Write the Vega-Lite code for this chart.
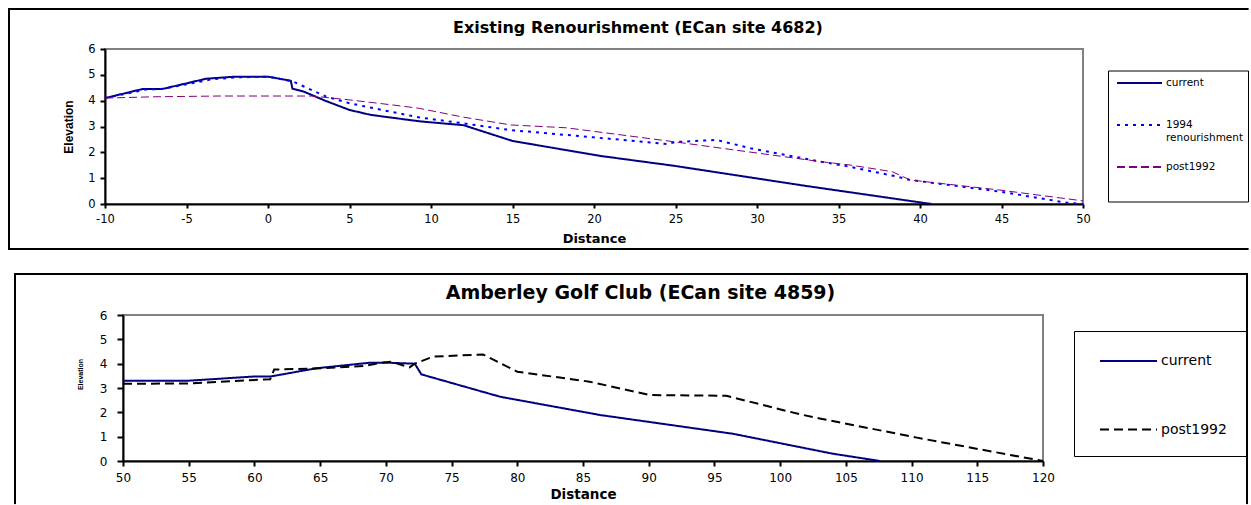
{
  "$schema": "https://vega.github.io/schema/vega-lite/v6.json",
  "padding": {"left": 5, "top": 6, "right": 0, "bottom": 0},
  "background": "white",
  "spacing": 19,
  "config": {
    "view": {"stroke": "#808080", "strokeWidth": 2},
    "axis": {"grid": false, "domainColor": "black", "domainWidth": 2, "tickColor": "black", "tickWidth": 2, "labelColor": "black", "titleColor": "black", "labelFlush": false, "labelOverlap": false, "minExtent": 0}
  },
  "resolve": {
    "scale": {"x": "independent", "y": "independent", "color": "independent", "strokeDash": "independent"},
    "axis": {"x": "independent", "y": "independent"},
    "legend": {"color": "independent", "strokeDash": "independent"}
  },
  "vconcat": [
    {
      "spacing": 0,
      "resolve": {"scale": {"color": "independent", "strokeDash": "independent"}, "legend": {"color": "independent", "strokeDash": "independent"}},
      "hconcat": [
        {"width": 1, "height": 1, "view": {"stroke": null}, "data": {"values": []}, "mark": "point", "encoding": {}},
        {
          "width": 978,
          "height": 155,
          "title": {"text": "Existing Renourishment (ECan site 4682)", "font": "DejaVu Sans", "fontSize": 16, "fontWeight": "bold", "color": "black", "baseline": "alphabetic", "offset": -41.6, "dx": 44},
          "layer": [
            {
              "data": {"values": [
                {"series": "current", "distance": -10, "elevation": 4.1},
                {"series": "current", "distance": -7.7, "elevation": 4.45},
                {"series": "current", "distance": -6.5, "elevation": 4.45},
                {"series": "current", "distance": -5, "elevation": 4.67},
                {"series": "current", "distance": -3.8, "elevation": 4.85},
                {"series": "current", "distance": -2, "elevation": 4.93},
                {"series": "current", "distance": 0, "elevation": 4.93},
                {"series": "current", "distance": 1.4, "elevation": 4.77},
                {"series": "current", "distance": 1.5, "elevation": 4.46},
                {"series": "current", "distance": 2.2, "elevation": 4.35},
                {"series": "current", "distance": 3.5, "elevation": 4.0},
                {"series": "current", "distance": 5, "elevation": 3.64},
                {"series": "current", "distance": 6.3, "elevation": 3.45},
                {"series": "current", "distance": 9.3, "elevation": 3.2},
                {"series": "current", "distance": 12, "elevation": 3.05},
                {"series": "current", "distance": 15, "elevation": 2.44},
                {"series": "current", "distance": 20.4, "elevation": 1.86},
                {"series": "current", "distance": 24.9, "elevation": 1.48},
                {"series": "current", "distance": 33, "elevation": 0.7},
                {"series": "current", "distance": 40.7, "elevation": 0},
                {"series": "1994 renourishment", "distance": -10, "elevation": 4.1},
                {"series": "1994 renourishment", "distance": -7.5, "elevation": 4.43},
                {"series": "1994 renourishment", "distance": -6.5, "elevation": 4.45},
                {"series": "1994 renourishment", "distance": -3.5, "elevation": 4.82},
                {"series": "1994 renourishment", "distance": -2, "elevation": 4.9},
                {"series": "1994 renourishment", "distance": 0, "elevation": 4.93},
                {"series": "1994 renourishment", "distance": 1.5, "elevation": 4.75},
                {"series": "1994 renourishment", "distance": 3.6, "elevation": 4.15},
                {"series": "1994 renourishment", "distance": 5, "elevation": 3.9},
                {"series": "1994 renourishment", "distance": 7, "elevation": 3.64},
                {"series": "1994 renourishment", "distance": 9.3, "elevation": 3.35},
                {"series": "1994 renourishment", "distance": 12, "elevation": 3.12},
                {"series": "1994 renourishment", "distance": 14.9, "elevation": 2.86},
                {"series": "1994 renourishment", "distance": 20, "elevation": 2.58},
                {"series": "1994 renourishment", "distance": 24.5, "elevation": 2.32},
                {"series": "1994 renourishment", "distance": 25, "elevation": 2.4},
                {"series": "1994 renourishment", "distance": 27.5, "elevation": 2.48},
                {"series": "1994 renourishment", "distance": 29.6, "elevation": 2.16},
                {"series": "1994 renourishment", "distance": 33.9, "elevation": 1.64},
                {"series": "1994 renourishment", "distance": 35.7, "elevation": 1.44},
                {"series": "1994 renourishment", "distance": 38.6, "elevation": 1.06},
                {"series": "1994 renourishment", "distance": 39.4, "elevation": 0.93},
                {"series": "1994 renourishment", "distance": 44.9, "elevation": 0.48},
                {"series": "1994 renourishment", "distance": 49, "elevation": 0.05},
                {"series": "1994 renourishment", "distance": 50, "elevation": 0},
                {"series": "post1992", "distance": -10, "elevation": 4.1},
                {"series": "post1992", "distance": -7, "elevation": 4.15},
                {"series": "post1992", "distance": -3, "elevation": 4.18},
                {"series": "post1992", "distance": 2.7, "elevation": 4.18},
                {"series": "post1992", "distance": 5, "elevation": 4.03},
                {"series": "post1992", "distance": 8.1, "elevation": 3.8},
                {"series": "post1992", "distance": 9.3, "elevation": 3.7},
                {"series": "post1992", "distance": 12, "elevation": 3.36},
                {"series": "post1992", "distance": 14.9, "elevation": 3.06},
                {"series": "post1992", "distance": 18.3, "elevation": 2.95},
                {"series": "post1992", "distance": 24.9, "elevation": 2.41},
                {"series": "post1992", "distance": 33.9, "elevation": 1.64},
                {"series": "post1992", "distance": 35.7, "elevation": 1.51},
                {"series": "post1992", "distance": 38.3, "elevation": 1.25},
                {"series": "post1992", "distance": 39.4, "elevation": 0.93},
                {"series": "post1992", "distance": 44.9, "elevation": 0.54},
                {"series": "post1992", "distance": 50, "elevation": 0.12}
              ]},
              "mark": {"type": "line"},
              "encoding": {
                "x": {"field": "distance", "type": "quantitative", "title": "Distance",
                  "scale": {"domain": [-10, 50], "nice": false, "zero": false},
                  "axis": {"values": [-10, -5, 0, 5, 10, 15, 20, 25, 30, 35, 40, 45, 50], "labelExpr": "toString(datum.value)", "tickSize": 4, "labelPadding": 5.5, "labelFont": "DejaVu Sans", "labelFontSize": 11.5, "titleFont": "DejaVu Sans", "titleFontSize": 13, "titleFontWeight": "bold", "titlePadding": 7.5}},
                "y": {"field": "elevation", "type": "quantitative", "title": "Elevation",
                  "scale": {"domain": [0, 6], "nice": false, "zero": false},
                  "axis": {"values": [0, 1, 2, 3, 4, 5, 6], "tickSize": 5, "labelPadding": 5, "labelFont": "DejaVu Sans", "labelFontSize": 11.5, "titleFont": "Liberation Sans", "titleFontSize": 12, "titleFontWeight": "bold", "titlePadding": 12}},
                "color": {"field": "series", "type": "nominal",
                  "scale": {"domain": ["current", "1994 renourishment", "post1992"], "range": ["#000080", "#0000FF", "#800080"]},
                  "legend": {"orient": "none", "legendX": 1003, "legendY": 21.5, "title": null, "strokeColor": "black", "padding": 4, "symbolType": "M-0.467,0L5.533,0", "symbolSize": 225, "symbolStrokeWidth": 2, "labelFont": "DejaVu Sans", "labelFontSize": 10.5, "labelColor": "black", "labelOffset": 37, "rowPadding": 3, "labelLimit": 200,
                    "labelExpr": "datum.label == '1994 renourishment' ? ['1994', 'renourishment', ''] : [datum.label, '', '']",
                    "encode": {"legend": {"strokeWidth": {"value": 2}}}}},
                "strokeDash": {"field": "series", "type": "nominal",
                  "scale": {"domain": ["current", "1994 renourishment", "post1992"], "range": [[1, 0], [3, 5], [8, 4]]}},
                "strokeWidth": {"condition": {"test": "datum.series === 'post1992'", "value": 1}, "value": 2}
              }
            },
            {
              "data": {"values": [{}]},
              "mark": {"type": "rule", "color": "black", "strokeWidth": 2, "strokeCap": "square"},
              "encoding": {
                "x": {"datum": -15.89, "title": "Distance", "axis": {"values": [-10, -5, 0, 5, 10, 15, 20, 25, 30, 35, 40, 45, 50], "labelExpr": "toString(datum.value)", "tickSize": 4, "labelPadding": 5.5, "labelFont": "DejaVu Sans", "labelFontSize": 11.5, "titleFont": "DejaVu Sans", "titleFontSize": 13, "titleFontWeight": "bold", "titlePadding": 7.5}},
                "y": {"datum": -1.742, "title": "Elevation", "axis": {"values": [0, 1, 2, 3, 4, 5, 6], "tickSize": 5, "labelPadding": 5, "labelFont": "DejaVu Sans", "labelFontSize": 11.5, "titleFont": "Liberation Sans", "titleFontSize": 12, "titleFontWeight": "bold", "titlePadding": 12}},
                "y2": {"datum": 7.548}}
            },
            {
              "data": {"values": [{}]},
              "mark": {"type": "rule", "color": "black", "strokeWidth": 2, "strokeCap": "square"},
              "encoding": {
                "x": {"datum": -15.89, "title": "Distance", "axis": {"values": [-10, -5, 0, 5, 10, 15, 20, 25, 30, 35, 40, 45, 50], "labelExpr": "toString(datum.value)", "tickSize": 4, "labelPadding": 5.5, "labelFont": "DejaVu Sans", "labelFontSize": 11.5, "titleFont": "DejaVu Sans", "titleFontSize": 13, "titleFontWeight": "bold", "titlePadding": 7.5}},
                "x2": {"datum": 60.1},
                "y": {"datum": 7.548, "title": "Elevation", "axis": {"values": [0, 1, 2, 3, 4, 5, 6], "tickSize": 5, "labelPadding": 5, "labelFont": "DejaVu Sans", "labelFontSize": 11.5, "titleFont": "Liberation Sans", "titleFontSize": 12, "titleFontWeight": "bold", "titlePadding": 12}}}
            },
            {
              "data": {"values": [{}]},
              "mark": {"type": "rule", "color": "black", "strokeWidth": 2, "strokeCap": "square"},
              "encoding": {
                "x": {"datum": -15.89, "title": "Distance", "axis": {"values": [-10, -5, 0, 5, 10, 15, 20, 25, 30, 35, 40, 45, 50], "labelExpr": "toString(datum.value)", "tickSize": 4, "labelPadding": 5.5, "labelFont": "DejaVu Sans", "labelFontSize": 11.5, "titleFont": "DejaVu Sans", "titleFontSize": 13, "titleFontWeight": "bold", "titlePadding": 7.5}},
                "x2": {"datum": 60.1},
                "y": {"datum": -1.742, "title": "Elevation", "axis": {"values": [0, 1, 2, 3, 4, 5, 6], "tickSize": 5, "labelPadding": 5, "labelFont": "DejaVu Sans", "labelFontSize": 11.5, "titleFont": "Liberation Sans", "titleFontSize": 12, "titleFontWeight": "bold", "titlePadding": 12}}}
            }
          ]
        }
      ]
    },
    {
      "spacing": 0,
      "resolve": {"scale": {"color": "independent", "strokeDash": "independent"}, "legend": {"color": "independent", "strokeDash": "independent"}},
      "hconcat": [
        {"width": 7, "height": 1, "view": {"stroke": null}, "data": {"values": []}, "mark": "point", "encoding": {}},
        {
          "width": 920,
          "height": 146,
          "title": {"text": "Amberley Golf Club (ECan site 4859)", "font": "DejaVu Sans", "fontSize": 19, "fontWeight": "bold", "color": "black", "baseline": "alphabetic", "offset": -45.5, "dx": 57.5},
          "layer": [
            {
              "data": {"values": [
                {"series": "current", "distance": 50, "elevation": 3.3},
                {"series": "current", "distance": 55, "elevation": 3.3},
                {"series": "current", "distance": 59.9, "elevation": 3.47},
                {"series": "current", "distance": 61.2, "elevation": 3.47},
                {"series": "current", "distance": 64.7, "elevation": 3.81},
                {"series": "current", "distance": 68.8, "elevation": 4.04},
                {"series": "current", "distance": 70.1, "elevation": 4.04},
                {"series": "current", "distance": 72.2, "elevation": 4.0},
                {"series": "current", "distance": 72.7, "elevation": 3.56},
                {"series": "current", "distance": 78.7, "elevation": 2.64},
                {"series": "current", "distance": 86.3, "elevation": 1.89},
                {"series": "current", "distance": 96.4, "elevation": 1.12},
                {"series": "current", "distance": 104, "elevation": 0.3},
                {"series": "current", "distance": 107.6, "elevation": 0},
                {"series": "post1992", "distance": 50, "elevation": 3.17},
                {"series": "post1992", "distance": 55, "elevation": 3.19},
                {"series": "post1992", "distance": 61.2, "elevation": 3.36},
                {"series": "post1992", "distance": 61.5, "elevation": 3.76},
                {"series": "post1992", "distance": 64.7, "elevation": 3.8},
                {"series": "post1992", "distance": 68.3, "elevation": 3.9},
                {"series": "post1992", "distance": 69.8, "elevation": 4.05},
                {"series": "post1992", "distance": 70.4, "elevation": 4.08},
                {"series": "post1992", "distance": 71.8, "elevation": 3.85},
                {"series": "post1992", "distance": 72.2, "elevation": 4.0},
                {"series": "post1992", "distance": 73.6, "elevation": 4.29},
                {"series": "post1992", "distance": 77.4, "elevation": 4.38},
                {"series": "post1992", "distance": 80, "elevation": 3.67},
                {"series": "post1992", "distance": 85.5, "elevation": 3.26},
                {"series": "post1992", "distance": 90.1, "elevation": 2.71},
                {"series": "post1992", "distance": 95.9, "elevation": 2.68},
                {"series": "post1992", "distance": 101.5, "elevation": 1.92},
                {"series": "post1992", "distance": 103, "elevation": 1.75},
                {"series": "post1992", "distance": 110.4, "elevation": 0.96},
                {"series": "post1992", "distance": 119.3, "elevation": 0.07},
                {"series": "post1992", "distance": 120, "elevation": 0}
              ]},
              "mark": {"type": "line", "strokeWidth": 2},
              "encoding": {
                "x": {"field": "distance", "type": "quantitative", "title": "Distance",
                  "scale": {"domain": [50, 120], "nice": false, "zero": false},
                  "axis": {"values": [50, 55, 60, 65, 70, 75, 80, 85, 90, 95, 100, 105, 110, 115, 120], "tickSize": 5, "labelPadding": 6.6, "labelFont": "DejaVu Sans", "labelFontSize": 12, "titleFont": "DejaVu Sans", "titleFontSize": 13.5, "titleFontWeight": "bold", "titlePadding": 4}},
                "y": {"field": "elevation", "type": "quantitative", "title": "Elevation",
                  "scale": {"domain": [0, 6], "nice": false, "zero": false},
                  "axis": {"values": [0, 1, 2, 3, 4, 5, 6], "tickSize": 6, "labelPadding": 10, "labelFont": "DejaVu Sans", "labelFontSize": 12, "titleFont": "Liberation Sans", "titleFontSize": 7, "titleFontWeight": "bold", "titlePadding": 16, "titleY": 59}},
                "color": {"field": "series", "type": "nominal",
                  "scale": {"domain": ["current", "post1992"], "range": ["#000080", "#000000"]},
                  "legend": {"orient": "none", "legendX": 951, "legendY": 16, "title": null, "strokeColor": "black", "padding": 19.5, "symbolType": "M-0.421,0L5.579,0", "symbolSize": 361, "symbolStrokeWidth": 2, "labelFont": "DejaVu Sans", "labelFontSize": 14, "labelColor": "black", "labelOffset": 46.5, "rowPadding": 50.5,
                    "encode": {"legend": {"strokeWidth": {"value": 2}}}}},
                "strokeDash": {"field": "series", "type": "nominal",
                  "scale": {"domain": ["current", "post1992"], "range": [[1, 0], [9, 5]]}}
              }
            },
            {
              "data": {"values": [{}]},
              "mark": {"type": "rule", "color": "black", "strokeWidth": 2, "strokeCap": "square"},
              "encoding": {
                "x": {"datum": 41.783, "title": "Distance", "axis": {"values": [50, 55, 60, 65, 70, 75, 80, 85, 90, 95, 100, 105, 110, 115, 120], "tickSize": 5, "labelPadding": 6.6, "labelFont": "DejaVu Sans", "labelFontSize": 12, "titleFont": "DejaVu Sans", "titleFontSize": 13.5, "titleFontWeight": "bold", "titlePadding": 4}},
                "y": {"datum": -1.73, "title": "Elevation", "axis": {"values": [0, 1, 2, 3, 4, 5, 6], "tickSize": 6, "labelPadding": 10, "labelFont": "DejaVu Sans", "labelFontSize": 12, "titleFont": "Liberation Sans", "titleFontSize": 7, "titleFontWeight": "bold", "titlePadding": 16, "titleY": 59}},
                "y2": {"datum": 7.685}}
            },
            {
              "data": {"values": [{}]},
              "mark": {"type": "rule", "color": "black", "strokeWidth": 2, "strokeCap": "square"},
              "encoding": {
                "x": {"datum": 41.783, "title": "Distance", "axis": {"values": [50, 55, 60, 65, 70, 75, 80, 85, 90, 95, 100, 105, 110, 115, 120], "tickSize": 5, "labelPadding": 6.6, "labelFont": "DejaVu Sans", "labelFontSize": 12, "titleFont": "DejaVu Sans", "titleFontSize": 13.5, "titleFontWeight": "bold", "titlePadding": 4}},
                "x2": {"datum": 135.52},
                "y": {"datum": 7.685, "title": "Elevation", "axis": {"values": [0, 1, 2, 3, 4, 5, 6], "tickSize": 6, "labelPadding": 10, "labelFont": "DejaVu Sans", "labelFontSize": 12, "titleFont": "Liberation Sans", "titleFontSize": 7, "titleFontWeight": "bold", "titlePadding": 16, "titleY": 59}}}
            },
            {
              "data": {"values": [{}]},
              "mark": {"type": "rule", "color": "black", "strokeWidth": 2, "strokeCap": "square"},
              "encoding": {
                "x": {"datum": 135.52, "title": "Distance", "axis": {"values": [50, 55, 60, 65, 70, 75, 80, 85, 90, 95, 100, 105, 110, 115, 120], "tickSize": 5, "labelPadding": 6.6, "labelFont": "DejaVu Sans", "labelFontSize": 12, "titleFont": "DejaVu Sans", "titleFontSize": 13.5, "titleFontWeight": "bold", "titlePadding": 4}},
                "y": {"datum": -1.73, "title": "Elevation", "axis": {"values": [0, 1, 2, 3, 4, 5, 6], "tickSize": 6, "labelPadding": 10, "labelFont": "DejaVu Sans", "labelFontSize": 12, "titleFont": "Liberation Sans", "titleFontSize": 7, "titleFontWeight": "bold", "titlePadding": 16, "titleY": 59}},
                "y2": {"datum": 7.685}}
            }
          ]
        }
      ]
    }
  ]
}
